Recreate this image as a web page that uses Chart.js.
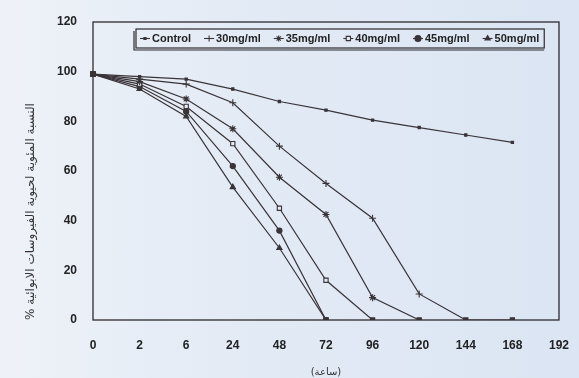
<!DOCTYPE html>
<html>
<head>
<meta charset="utf-8">
<script src="https://cdn.jsdelivr.net/npm/chart.js@4/dist/chart.umd.min.js"></script>
<style>
  html, body { margin: 0; padding: 0; }
  body { width: 579px; height: 378px; background: linear-gradient(90deg, #eef2f8 0%, #e2eaf5 45%, #dbe5f3 100%); }
  #wrap { position: relative; width: 579px; height: 378px; }
</style>
</head>
<body>
<div id="wrap"><canvas id="chart" width="579" height="378"></canvas></div>
<script>
// hours (categories on the x axis, evenly spaced)
const hours = ['0', '2', '6', '24', '48', '72', '96', '120', '144', '168', '192'];

// % viability per concentration
const control = [99, 98, 97, 93, 88, 84.5, 80.5, 77.5, 74.5, 71.5];
const mg30 = [99, 97, 95, 87.5, 70, 55, 41, 10.5, 0, 0];
const mg35 = [99, 96, 89, 77, 57.5, 42.5, 9, 0];
const mg40 = [99, 95, 86, 71, 45, 16, 0];
const mg45 = [99, 94, 84, 62, 36, 0];
const mg50 = [99, 93, 82, 53.5, 29, 0];

const y_title = '% النسبة المئوية لحيوية الفيروسات الابوائية';
const x_title = '(ساعة)';

const ink = '#3a3337';

function series(label, data, style, radius, fill) {
    return {
        label: label,
        data: data,
        borderColor: ink,
        borderWidth: 1.2,
        tension: 0,
        pointStyle: (ctx) => ctx.raw === 0 || ctx.dataIndex === 0 ? 'rect' : style,
        pointRadius: (ctx) => ctx.raw === 0 || ctx.dataIndex === 0 ? 3 : radius,
        pointBackgroundColor: (ctx) => ctx.raw === 0 || ctx.dataIndex === 0 ? ink : fill,
        pointBorderColor: ink,
        pointBorderWidth: 1.1,
        legendStyle: style,
        legendFill: fill
    };
}

// frame round the plot area
const frame = {
    id: 'frame',
    beforeDatasetsDraw(chart) {
        const a = chart.chartArea;
        const ctx = chart.ctx;
        ctx.save();
        ctx.strokeStyle = '#2e2a2e';
        ctx.lineWidth = 1.3;
        ctx.strokeRect(a.left, a.top, a.right - a.left, a.bottom - a.top);
        ctx.restore();
    }
};

// boxed legend inside the plot, as in the scan
const box_legend = {
    id: 'box_legend',
    afterDraw(chart) {
        const ctx = chart.ctx;
        const x0 = 136, y0 = 29, h = 19;
        ctx.save();
        ctx.font = 'bold 11px "Liberation Sans", Arial, sans-serif';
        ctx.textBaseline = 'middle';
        let x = x0 + 4;
        const cy = y0 + h / 2;
        chart.data.datasets.forEach((ds) => {
            ctx.strokeStyle = ink;
            ctx.lineWidth = 1.1;
            ctx.beginPath();
            ctx.moveTo(x, cy);
            ctx.lineTo(x + 10, cy);
            ctx.stroke();
            ctx.fillStyle = ds.legendFill;
            Chart.helpers.drawPoint(ctx, {
                pointStyle: ds.legendStyle,
                radius: ds.legendStyle === 'rect' && ds.legendFill === ink ? 1.5 : 3,
                borderWidth: 1.1,
                rotation: 0
            }, x + 5, cy);
            ctx.fillStyle = '#222';
            ctx.fillText(ds.label, x + 12, cy + 0.5);
            x += 12 + ctx.measureText(ds.label).width + 13;
        });
        ctx.strokeStyle = '#2e2a2e';
        ctx.lineWidth = 1.2;
        ctx.strokeRect(x0, y0, x - x0 - 8, h);
        ctx.beginPath();
        ctx.moveTo(x0 - 2, y0 + 2);
        ctx.lineTo(x0 - 2, y0 + h + 2);
        ctx.lineTo(x - 8, y0 + h + 2);
        ctx.stroke();
        ctx.restore();
    }
};

new Chart(document.getElementById('chart'), {
    type: 'line',
    data: {
        labels: hours,
        datasets: [
            series('Control', control, 'rect', 1.6, ink),
            series('30mg/ml', mg30, 'cross', 3.5, ink),
            series('35mg/ml', mg35, 'star', 3.5, ink),
            series('40mg/ml', mg40, 'rect', 3, '#e4ebf5'),
            series('45mg/ml', mg45, 'circle', 2.6, ink),
            series('50mg/ml', mg50, 'triangle', 3, ink)
        ]
    },
    options: {
        responsive: false,
        animation: false,
        devicePixelRatio: 1,
        layout: { padding: { top: 22, right: 8, left: 0, bottom: 0 } },
        scales: {
            x: {
                type: 'category',
                offset: false,
                grid: { display: false },
                border: { display: false },
                ticks: {
                    color: '#222',
                    font: { family: '"Liberation Sans", Arial, sans-serif', size: 12, weight: 'bold' },
                    padding: 10,
                    maxRotation: 0,
                    autoSkip: false
                },
                title: {
                    display: true,
                    text: x_title,
                    color: '#333',
                    font: { family: '"DejaVu Sans", sans-serif', size: 10 },
                    padding: { top: 6, bottom: 0 }
                },
                afterFit(scale) { scale.height = 58; }
            },
            y: {
                min: 0,
                max: 120,
                grid: { display: false },
                border: { display: false },
                ticks: {
                    stepSize: 20,
                    color: '#222',
                    font: { family: '"Liberation Sans", Arial, sans-serif', size: 12, weight: 'bold' },
                    padding: 8
                },
                title: {
                    display: true,
                    text: y_title,
                    align: 'start',
                    color: '#333',
                    font: { family: '"DejaVu Sans", sans-serif', size: 12 },
                    padding: { top: 24, bottom: 0 }
                },
                afterFit(scale) { scale.width = 93; }
            }
        },
        plugins: {
            legend: { display: false },
            tooltip: { enabled: false }
        }
    },
    plugins: [frame, box_legend]
});
</script>
</body>
</html>
